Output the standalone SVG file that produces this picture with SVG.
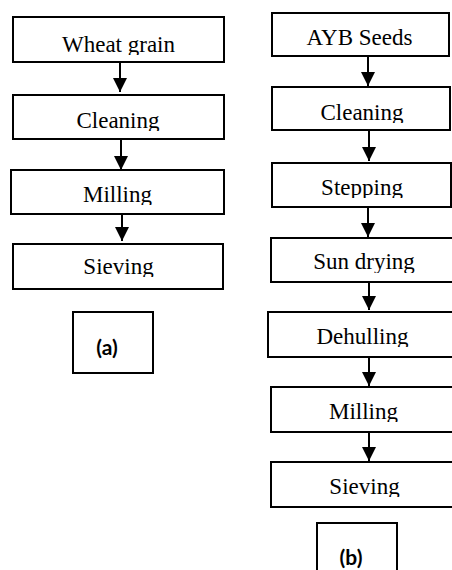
<svg xmlns="http://www.w3.org/2000/svg" width="452" height="570" viewBox="0 0 452 570">
<defs>
<marker id="ah" markerUnits="userSpaceOnUse" markerWidth="14" markerHeight="14" viewBox="0 0 14 14" refX="14" refY="7" orient="auto">
<path d="M0,0 L14,7 L0,14 Z" fill="#000"/>
</marker>
<clipPath id="c-a1"><rect x="0" y="17" width="452" height="38"/></clipPath>
<clipPath id="c-a2"><rect x="0" y="95" width="452" height="36"/></clipPath>
<clipPath id="c-a3"><rect x="0" y="170" width="452" height="35"/></clipPath>
<clipPath id="c-a4"><rect x="0" y="244" width="452" height="33"/></clipPath>
<clipPath id="c-b1"><rect x="0" y="13" width="452" height="36"/></clipPath>
<clipPath id="c-b2"><rect x="0" y="87" width="452" height="36"/></clipPath>
<clipPath id="c-b3"><rect x="0" y="163" width="452" height="35"/></clipPath>
<clipPath id="c-b4"><rect x="0" y="238" width="452" height="35"/></clipPath>
<clipPath id="c-b5"><rect x="0" y="312" width="452" height="35"/></clipPath>
<clipPath id="c-b6"><rect x="0" y="387" width="452" height="35"/></clipPath>
<clipPath id="c-b7"><rect x="0" y="462" width="452" height="35"/></clipPath>
</defs>
<rect width="452" height="570" fill="#fff"/>
<g id="connectors" stroke="#000" stroke-width="2" fill="none" marker-end="url(#ah)">
<line x1="120" y1="62" x2="120" y2="92"/>
<line x1="121" y1="139" x2="121" y2="170"/>
<line x1="122" y1="214" x2="122" y2="241"/>
<line x1="368" y1="56" x2="368" y2="86"/>
<line x1="369" y1="130" x2="369" y2="161"/>
<line x1="368" y1="207" x2="368" y2="237"/>
<line x1="369" y1="282" x2="369" y2="310"/>
<line x1="369" y1="357" x2="369" y2="386"/>
<line x1="369" y1="432" x2="369" y2="461"/>
</g>
<g id="a1"><rect x="13" y="17" width="211" height="45" fill="#fff" stroke="#000" stroke-width="2"/><text clip-path="url(#c-a1)" style="font-family:'Liberation Serif','Times New Roman',serif;font-size:23px" text-anchor="middle" x="118.5" y="52">Wheat grain</text></g>
<g id="a2"><rect x="13" y="95" width="211" height="44" fill="#fff" stroke="#000" stroke-width="2"/><text clip-path="url(#c-a2)" style="font-family:'Liberation Serif','Times New Roman',serif;font-size:23px" text-anchor="middle" x="118" y="128">Cleaning</text></g>
<g id="a3"><rect x="11" y="170" width="213" height="44" fill="#fff" stroke="#000" stroke-width="2"/><text clip-path="url(#c-a3)" style="font-family:'Liberation Serif','Times New Roman',serif;font-size:23px" text-anchor="middle" x="117.5" y="202">Milling</text></g>
<g id="a4"><rect x="13" y="244" width="210" height="45" fill="#fff" stroke="#000" stroke-width="2"/><text clip-path="url(#c-a4)" style="font-family:'Liberation Serif','Times New Roman',serif;font-size:23px" text-anchor="middle" x="118.5" y="274">Sieving</text></g>
<g id="b1"><rect x="272" y="13" width="177" height="43" fill="#fff" stroke="#000" stroke-width="2"/><text clip-path="url(#c-b1)" style="font-family:'Liberation Serif','Times New Roman',serif;font-size:23px" text-anchor="middle" x="359.5" y="45">AYB Seeds</text></g>
<g id="b2"><rect x="272" y="87" width="178" height="43" fill="#fff" stroke="#000" stroke-width="2"/><text clip-path="url(#c-b2)" style="font-family:'Liberation Serif','Times New Roman',serif;font-size:23px" text-anchor="middle" x="362" y="120">Cleaning</text></g>
<g id="b3"><rect x="272" y="163" width="179" height="44" fill="#fff" stroke="#000" stroke-width="2"/><text clip-path="url(#c-b3)" style="font-family:'Liberation Serif','Times New Roman',serif;font-size:23px" text-anchor="middle" x="362" y="195">Stepping</text></g>
<g id="b4"><rect x="271" y="238" width="184" height="44" fill="#fff" stroke="#000" stroke-width="2"/><text clip-path="url(#c-b4)" style="font-family:'Liberation Serif','Times New Roman',serif;font-size:23px" text-anchor="middle" x="364" y="269">Sun drying</text></g>
<g id="b5"><rect x="268" y="312" width="187" height="45" fill="#fff" stroke="#000" stroke-width="2"/><text clip-path="url(#c-b5)" style="font-family:'Liberation Serif','Times New Roman',serif;font-size:23px" text-anchor="middle" x="362.5" y="344">Dehulling</text></g>
<g id="b6"><rect x="271" y="387" width="184" height="45" fill="#fff" stroke="#000" stroke-width="2"/><text clip-path="url(#c-b6)" style="font-family:'Liberation Serif','Times New Roman',serif;font-size:23px" text-anchor="middle" x="363.5" y="419">Milling</text></g>
<g id="b7"><rect x="271" y="462" width="184" height="45" fill="#fff" stroke="#000" stroke-width="2"/><text clip-path="url(#c-b7)" style="font-family:'Liberation Serif','Times New Roman',serif;font-size:23px" text-anchor="middle" x="364.5" y="494">Sieving</text></g>
<g id="a-label"><rect x="73" y="312" width="80" height="61" fill="#fff" stroke="#000" stroke-width="2"/><text style="font-family:Lato,'Open Sans',sans-serif;font-weight:700;font-size:21px" text-anchor="middle" x="107" y="355">(a)</text></g>
<g id="b-label"><rect x="317" y="523" width="80" height="50" fill="#fff" stroke="#000" stroke-width="2"/><text style="font-family:Lato,'Open Sans',sans-serif;font-weight:700;font-size:21px" text-anchor="middle" x="351" y="565">(b)</text></g>
</svg>
